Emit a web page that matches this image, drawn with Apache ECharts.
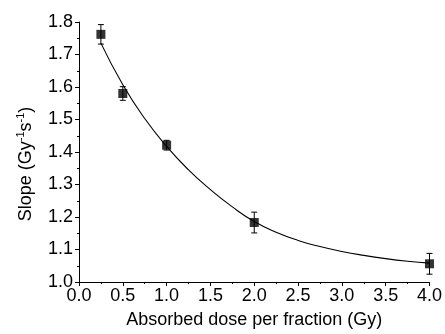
<!DOCTYPE html>
<html>
<head>
<meta charset="utf-8">
<script src="https://cdn.jsdelivr.net/npm/echarts@6/dist/echarts.min.js"></script>
<style>
  html, body { margin: 0; padding: 0; background: #fff; }
  #chart { width: 445px; height: 334px; }
</style>
</head>
<body>
<div id="chart"></div>
<script>
// Measured slope versus absorbed dose per fraction
const doses = [0.25, 0.5, 1.0, 2.0, 4.0];
const slopes = [1.762, 1.580, 1.421, 1.183, 1.056];
const slopeErrors = [0.03, 0.021, 0.015, 0.032, 0.032];

// Fitted decay curve, sampled along the dose axis
const fitDoses = [0.25, 0.5, 0.75, 1.0, 1.25, 1.5, 1.75, 2.0, 2.25, 2.5, 2.75, 3.0, 3.25, 3.5, 3.75, 4.0];
const fitSlopes = [1.735, 1.607, 1.503, 1.417, 1.345, 1.284, 1.231, 1.186, 1.153, 1.128, 1.109, 1.094, 1.082, 1.072, 1.064, 1.058];

const FONT = '"Liberation Sans", Arial, sans-serif';

const chart = echarts.init(document.getElementById('chart'), null, { renderer: 'canvas' });

const points = doses.map((d, i) => [d, slopes[i]]);
const errorData = doses.map((d, i) => [d, slopes[i] - slopeErrors[i], slopes[i] + slopeErrors[i]]);
const fitData = fitDoses.map((d, i) => [d, fitSlopes[i]]);

chart.setOption({
  animation: false,
  backgroundColor: '#ffffff',
  grid: { left: 79, right: 14, top: 22, bottom: 49 },
  xAxis: {
    type: 'value',
    min: 0, max: 4, interval: 0.5,
    name: 'Absorbed dose per fraction (Gy)',
    nameLocation: 'middle',
    nameGap: 29,
    nameTextStyle: { fontFamily: FONT, fontSize: 18, color: '#000' },
    axisLine: { show: true, lineStyle: { color: '#000', width: 1 } },
    axisTick: { show: true, inside: false, length: 4, lineStyle: { color: '#000' } },
    minorTick: { show: true, splitNumber: 2, length: 2, lineStyle: { color: '#000' } },
    splitLine: { show: false },
    axisLabel: {
      margin: 5, fontFamily: FONT, fontSize: 18, color: '#000',
      formatter: v => v.toFixed(1)
    }
  },
  yAxis: {
    type: 'value',
    min: 1.0, max: 1.8, interval: 0.1,
    name: '{b|Slope (Gy}{s|-1}{b|s}{s|-1}{b|)}',
    nameLocation: 'middle',
    nameGap: 44,
    nameRotate: 90,
    nameTextStyle: {
      fontFamily: FONT, fontSize: 18, color: '#000',
      padding: [0, 24, 0, 0],
      rich: {
        b: { fontFamily: FONT, fontSize: 18, color: '#000', verticalAlign: 'bottom', lineHeight: 20 },
        s: { fontFamily: FONT, fontSize: 11, color: '#000', verticalAlign: 'top', lineHeight: 20 }
      }
    },
    axisLine: { show: true, lineStyle: { color: '#000', width: 1 } },
    axisTick: { show: true, inside: false, length: 4, lineStyle: { color: '#000' } },
    minorTick: { show: true, splitNumber: 2, length: 2, lineStyle: { color: '#000' } },
    splitLine: { show: false },
    axisLabel: {
      margin: 6, fontFamily: FONT, fontSize: 18, color: '#000',
      formatter: v => v.toFixed(1)
    }
  },
  series: [
    {
      name: 'fit',
      type: 'line',
      data: fitData,
      smooth: true,
      showSymbol: false,
      symbol: 'none',
      lineStyle: { color: '#000', width: 1.1 },
      z: 2
    },
    {
      name: 'error',
      type: 'custom',
      data: errorData,
      renderItem: function (params, api) {
        const x = api.value(0);
        const lo = api.coord([x, api.value(1)]);
        const hi = api.coord([x, api.value(2)]);
        const cap = 3;
        const style = { stroke: '#000', lineWidth: 1 };
        return {
          type: 'group',
          children: [
            { type: 'line', shape: { x1: hi[0], y1: hi[1], x2: lo[0], y2: lo[1] }, style },
            { type: 'line', shape: { x1: hi[0] - cap, y1: hi[1], x2: hi[0] + cap, y2: hi[1] }, style },
            { type: 'line', shape: { x1: lo[0] - cap, y1: lo[1], x2: lo[0] + cap, y2: lo[1] }, style }
          ]
        };
      },
      z: 3
    },
    {
      name: 'measured',
      type: 'scatter',
      data: points,
      symbol: 'rect',
      symbolSize: 9,
      itemStyle: { color: '#000' },
      z: 4
    }
  ]
});
</script>
</body>
</html>
